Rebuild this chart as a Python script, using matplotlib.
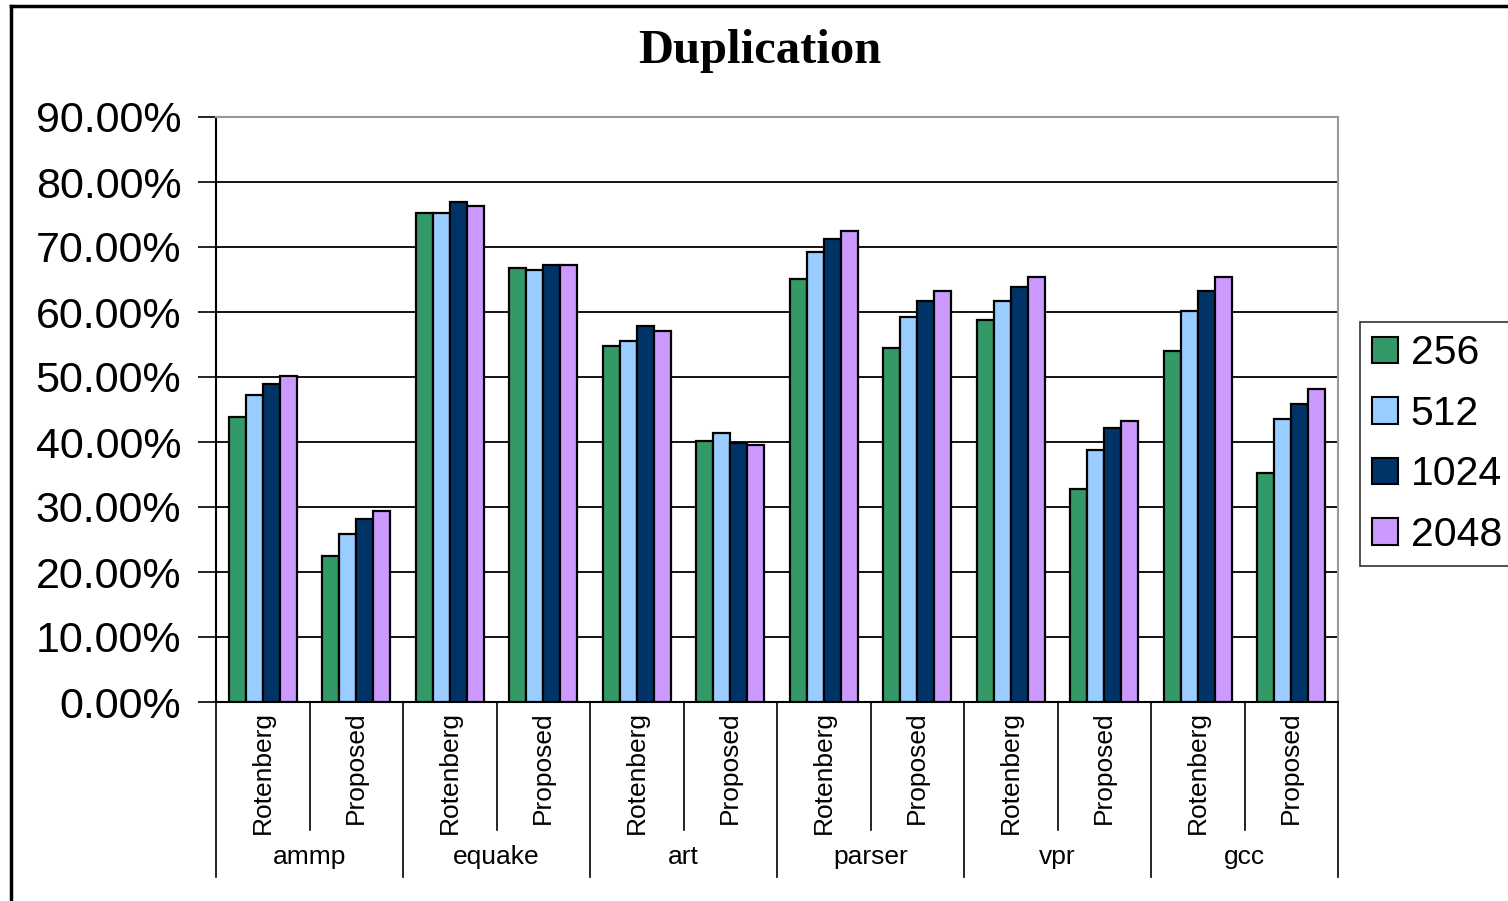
import numpy as np
import matplotlib.pyplot as plt
from matplotlib.lines import Line2D
from matplotlib.patches import Patch

# duplication ratio (%) per benchmark / scheme / trace cache size
benchmarks = ['ammp', 'equake', 'art', 'parser', 'vpr', 'gcc']
schemes = ['Rotenberg', 'Proposed']
sizes = ['256', '512', '1024', '2048']
colors = ['#339966', '#99CCFF', '#003366', '#CC99FF']

dup_256 = [43.8, 22.4, 75.3, 66.7, 54.7, 40.2, 65.1, 54.4, 58.7, 32.8, 54.0, 35.3]
dup_512 = [47.3, 25.8, 75.3, 66.4, 55.6, 41.4, 69.2, 59.3, 61.7, 38.7, 60.2, 43.6]
dup_1024 = [48.9, 28.2, 76.9, 67.3, 57.8, 39.9, 71.3, 61.7, 63.9, 42.1, 63.3, 45.8]
dup_2048 = [50.1, 29.4, 76.3, 67.3, 57.1, 39.6, 72.5, 63.3, 65.4, 43.3, 65.4, 48.2]
series = [dup_256, dup_512, dup_1024, dup_2048]

plt.rcParams['font.family'] = ['Liberation Sans', 'DejaVu Sans']

fig = plt.figure(figsize=(15.08, 9.01), dpi=100)
ax = fig.add_axes([216 / 1508, 199 / 901, 1122 / 1508, 585 / 901])

n = len(dup_256)
x = np.arange(n) + 0.5
w = 0.182
for k, (vals, c) in enumerate(zip(series, colors)):
    ax.bar(x + (k - 1.5) * w, vals, w, color=c, edgecolor='black',
           linewidth=1.6, zorder=3)

ax.set_xlim(0, n)
ax.set_ylim(0, 90)
ax.set_yticks(np.arange(0, 91, 10))
ax.set_yticklabels(['%.2f%%' % v for v in np.arange(0, 91, 10)], fontsize=31)
ax.tick_params(axis='y', direction='out', length=13, width=1.2, pad=12)
ax.set_xticks([])
ax.yaxis.grid(True, color='black', linewidth=1.3, zorder=0)

for s in ['top', 'right']:
    ax.spines[s].set_color('#999999')
    ax.spines[s].set_linewidth(1.5)
ax.spines['left'].set_linewidth(1.5)
ax.spines['bottom'].set_linewidth(1.5)

# two-level category axis
for i in range(n + 1):
    y_end = -0.299 if i % 2 == 0 else -0.219
    ax.add_line(Line2D([i, i], [0, y_end], transform=ax.get_xaxis_transform(),
                       color='black', linewidth=1.2, clip_on=False))
for i in range(n):
    ax.text(i + 0.5, -0.016, schemes[i % 2], rotation=90, ha='center', va='top',
            fontsize=19, transform=ax.get_xaxis_transform())
for j, b in enumerate(benchmarks):
    ax.text(2 * j + 1, -0.265, b, ha='center', va='center', fontsize=19,
            transform=ax.get_xaxis_transform())

fig.text(760 / 1508, 1 - 51 / 901, 'Duplication', ha='center', va='center',
         fontsize=35, fontweight='bold', family=['Liberation Serif', 'DejaVu Serif'])

handles = [Patch(facecolor=c, edgecolor='black', linewidth=1.5) for c in colors]
leg = fig.legend(handles, sizes, loc='upper left',
                 bbox_to_anchor=(1360 / 1508, 1 - 322 / 901), fontsize=29.5,
                 handlelength=0.62, handleheight=0.62, handletextpad=0.32,
                 labelspacing=0.55, borderpad=0.3, borderaxespad=0,
                 fancybox=False, frameon=True)
leg.get_frame().set_edgecolor('black')
leg.get_frame().set_linewidth(1.2)

# outer chart border
fig.add_artist(Line2D([11 / 1508, 11 / 1508], [0, 1 - 6 / 901], color='black', linewidth=2.5))
fig.add_artist(Line2D([11 / 1508, 1], [1 - 6 / 901, 1 - 6 / 901], color='black', linewidth=2.5))

fig.savefig('out.png', dpi=100)
